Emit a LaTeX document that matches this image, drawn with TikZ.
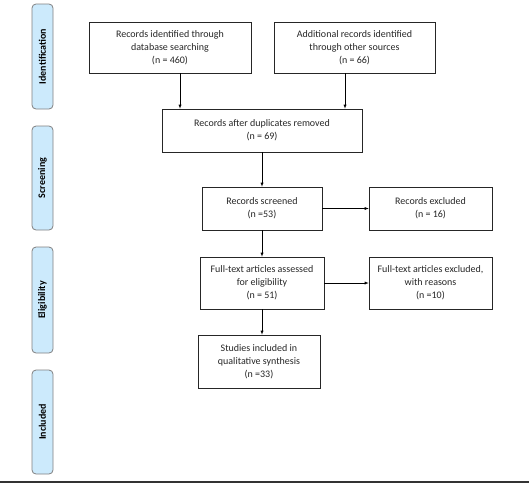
\documentclass[tikz,border=0pt]{standalone}
\usepackage{fontspec}
\setmainfont{Carlito}
\usetikzlibrary{arrows}

\definecolor{stageblue}{RGB}{204,234,252}

\begin{document}
\begin{tikzpicture}[x=1pt,y=-1pt,
	flowbox/.style={draw=black!85, line width=0.6pt, align=center, inner sep=0pt, text=black!85, font=\fontsize{10}{13}\selectfont},
	stagebox/.style={draw=black!50, line width=0.8pt, fill=stageblue, rounded corners=4pt, minimum height=21pt, inner sep=0pt, rotate=90, font=\bfseries\fontsize{10}{12}\selectfont}]
				\useasboundingbox (0,0) rectangle (529,483);
				% stage labels
				\node[stagebox, minimum width=105pt] (ident) at (42.5,56.5) {Identification};
				\node[stagebox, minimum width=104pt] (screen) at (42.5,178) {Screening};
				\node[stagebox, minimum width=106pt] (elig) at (42.5,300) {Eligibility};
				\node[stagebox, minimum width=104pt] (incl) at (42.5,422) {Included};
				% boxes
				\node[flowbox, minimum width=162pt, minimum height=51pt] (db) at (170,47.5) {Records identified through\\database searching\\(n = 460)};
				\node[flowbox, minimum width=161pt, minimum height=51pt] (other) at (354.5,47.5) {Additional records identified\\through other sources\\(n = 66)};
				\node[flowbox, minimum width=200pt, minimum height=43pt] (dup) at (262,130.5) {Records after duplicates removed\\(n = 69)};
				\node[flowbox, minimum width=120pt, minimum height=43pt] (scr) at (262,208.5) {Records screened\\(n =53)};
				\node[flowbox, minimum width=123pt, minimum height=43pt] (excl) at (430.5,208.5) {Records excluded\\(n = 16)};
				\node[flowbox, minimum width=124pt, minimum height=52pt] (full) at (262,283) {Full-text articles assessed\\for eligibility\\(n = 51)};
				\node[flowbox, minimum width=123pt, minimum height=52pt] (fullex) at (430.5,283) {Full-text articles excluded,\\with reasons\\(n =10)};
				\node[flowbox, minimum width=122pt, minimum height=53pt] (study) at (259,361.5) {Studies included in\\qualitative synthesis\\(n =33)};
				% arrows
				\draw[-latex] ([xshift=10pt]db.south) -- ([xshift=10pt]db.south |- dup.north);
				\draw[-latex] ([xshift=-9.5pt]other.south) -- ([xshift=-9.5pt]other.south |- dup.north);
				\draw[-latex] (dup) -- (scr);
				\draw[-latex] (scr) -- (excl);
				\draw[-latex] (scr) -- (full);
				\draw[-latex] (full) -- (fullex);
				\draw[-latex] (full.south) -- (full.south |- study.north);
				% rule at the bottom
				\draw[line width=1.5pt, black!80] (0,482) -- (529,482);
			\end{tikzpicture}
\end{document}
